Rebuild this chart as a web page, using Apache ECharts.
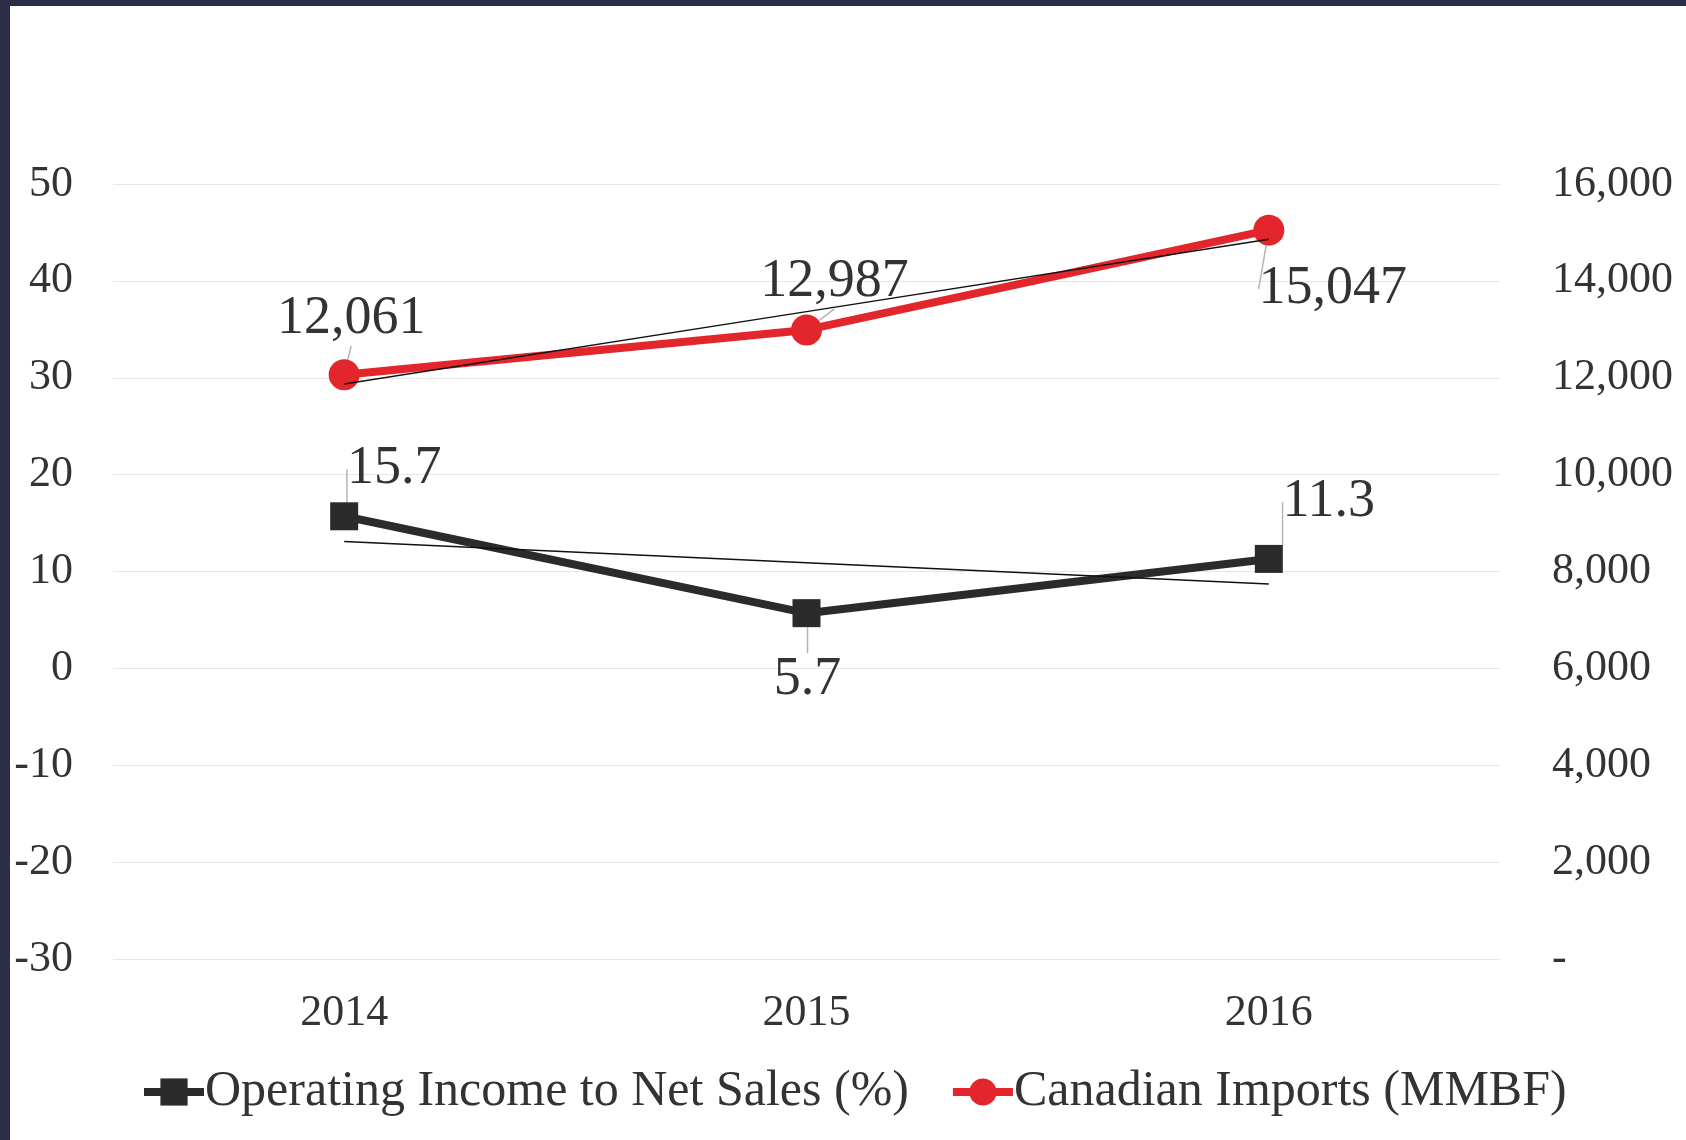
<!DOCTYPE html>
<html>
<head>
<meta charset="utf-8">
<script src="https://cdn.jsdelivr.net/npm/echarts@6/dist/echarts.min.js"></script>
<style>
  html, body { margin: 0; padding: 0; background: #2c2d47; }
  #chart { position: absolute; left: 10px; top: 6px; width: 1676px; height: 1134px; background: #ffffff; }
</style>
</head>
<body>
<div id="chart"></div>
<script>
// data
var years = ["2014", "2015", "2016"];
var operatingIncome = [15.7, 5.7, 11.3];
var canadianImports = [12061, 12987, 15047];
// linear trendlines as drawn in the picture
var operatingTrend = [13.1, 10.9, 8.7];
var importsTrend = [11870, 13365, 14860];

var leftTicks = { min: -30, max: 50, interval: 10 };
var rightTicks = { min: 0, max: 16000, interval: 2000 };

// where each data label sits relative to its point (px)
var opLabelOffsets = [[50, -47], [1, 67], [60, -57]];
var impLabelOffsets = [[7, -56], [28, -48], [64, 59]];

var serif = "Liberation Serif";
var textColor = "#333333";

function fmtThousands(v) {
    return v === 0 ? "-" : v.toLocaleString("en-US");
}

function draw() {
    var chart = echarts.init(document.getElementById("chart"));
    var option = {
        animation: false,
        grid: { left: 103, right: 186, top: 178, bottom: 181 },
        legend: {
            left: 125,
            top: 1056,
            itemWidth: 60,
            itemHeight: 34,
            itemGap: 40,
            lineStyle: { width: 8 },
            textStyle: { fontFamily: serif, fontSize: 50, color: textColor, padding: [0, 0, 0, -4] },
            data: ["Operating Income to Net Sales (%)", "Canadian Imports (MMBF)"]
        },
        xAxis: {
            type: "category",
            data: years,
            boundaryGap: true,
            axisLine: { show: false },
            axisTick: { show: false },
            axisLabel: { fontFamily: serif, fontSize: 44, color: textColor, margin: 32 }
        },
        yAxis: [
            {
                type: "value",
                min: leftTicks.min, max: leftTicks.max, interval: leftTicks.interval,
                axisLine: { show: false },
                axisTick: { show: false },
                splitLine: { lineStyle: { color: "#e6e6e6", width: 1 } },
                axisLabel: { fontFamily: serif, fontSize: 44, color: textColor, margin: 40 }
            },
            {
                type: "value",
                min: rightTicks.min, max: rightTicks.max, interval: rightTicks.interval,
                axisLine: { show: false },
                axisTick: { show: false },
                splitLine: { show: false },
                axisLabel: { fontFamily: serif, fontSize: 44, color: textColor, margin: 52, formatter: fmtThousands }
            }
        ],
        series: [
            {
                name: "Operating Income to Net Sales (%)",
                type: "line",
                yAxisIndex: 0,
                data: operatingIncome,
                symbol: "rect",
                symbolSize: 28,
                itemStyle: { color: "#2b2b2b" },
                lineStyle: { color: "#2b2b2b", width: 8 },
                z: 3,
                label: {
                    show: true, position: "inside",
                    fontFamily: serif, fontSize: 54, color: textColor,
                    formatter: function (p) { return p.value.toFixed(1); }
                },
                labelLine: { show: true, lineStyle: { color: "#b5b5b5", width: 1.5 } },
                labelLayout: function (p) {
                    var o = opLabelOffsets[p.dataIndex];
                    return { dx: o[0], dy: o[1] };
                }
            },
            {
                name: "Canadian Imports (MMBF)",
                type: "line",
                yAxisIndex: 1,
                data: canadianImports,
                symbol: "circle",
                symbolSize: 31,
                itemStyle: { color: "#e3262b" },
                lineStyle: { color: "#e3262b", width: 8 },
                z: 3,
                label: {
                    show: true, position: "inside",
                    fontFamily: serif, fontSize: 54, color: textColor,
                    formatter: function (p) { return fmtThousands(p.value); }
                },
                labelLine: { show: true, lineStyle: { color: "#b5b5b5", width: 1.5 } },
                labelLayout: function (p) {
                    var o = impLabelOffsets[p.dataIndex];
                    return { dx: o[0], dy: o[1] };
                }
            },
            {
                name: "opTrend",
                type: "line",
                yAxisIndex: 0,
                data: operatingTrend,
                symbol: "none",
                silent: true,
                lineStyle: { color: "#111111", width: 1.5 },
                z: 4
            },
            {
                name: "impTrend",
                type: "line",
                yAxisIndex: 1,
                data: importsTrend,
                symbol: "none",
                silent: true,
                lineStyle: { color: "#111111", width: 1.5 },
                z: 4
            }
        ]
    };
    chart.setOption(option);
}

draw();
</script>
</body>
</html>
